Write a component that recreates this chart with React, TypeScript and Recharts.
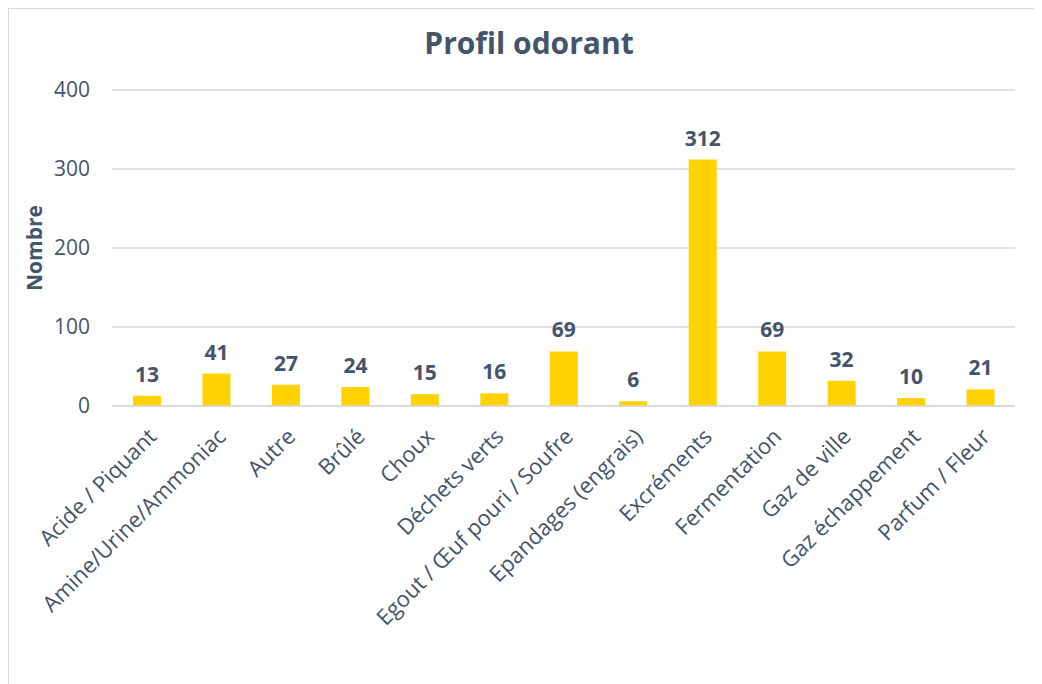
import React from 'react';
import { BarChart, Bar, XAxis, YAxis, CartesianGrid, LabelList, Label } from 'recharts';

const CATEGORIES = [
  'Acide / Piquant', 'Amine/Urine/Ammoniac', 'Autre', 'Brûlé', 'Choux', 'Déchets verts',
  'Egout / Œuf pouri / Soufre', 'Epandages (engrais)', 'Excréments', 'Fermentation',
  'Gaz de ville', 'Gaz échappement', 'Parfum / Fleur',
];
const COUNTS = [13, 41, 27, 24, 15, 16, 69, 6, 312, 69, 32, 10, 21];
const Y_TICKS = [0, 100, 200, 300, 400];

const TEXT = '#44546a';
const GRID = '#d9d9d9';
const BAR = '#ffd200';
const FONT = '"Open Sans", "Noto Sans", sans-serif';

const data = CATEGORIES.map((name, i) => ({ name, value: COUNTS[i] }));

const XTick = ({ x, y, payload }: any) => (
  <g transform={`translate(${x + 11},${y + 32})`}>
    <text transform="rotate(-45)" textAnchor="end" fill={TEXT} fontSize={22} fontFamily={FONT}>
      {payload.value}
    </text>
  </g>
);

const YTitle = ({ viewBox }: any) => {
  const cx = viewBox.x + 25;
  const cy = viewBox.y + viewBox.height / 2;
  return (
    <text x={cx} y={cy} transform={`rotate(-90 ${cx} ${cy})`} textAnchor="middle" dominantBaseline="central"
      fill={TEXT} fontSize={21} fontWeight="bold" fontFamily={FONT}>
      Nombre
    </text>
  );
};

export default function App() {
  return (
    <div style={{
      position: 'relative', width: 1034, height: 676, boxSizing: 'border-box',
      borderTop: `1px solid ${GRID}`, borderLeft: `1px solid ${GRID}`, background: '#fff', fontFamily: FONT,
    }}>
      <div style={{
        position: 'absolute', top: 14, left: 0, width: 1040, textAlign: 'center',
        fontSize: 30, fontWeight: 'bold', color: TEXT, lineHeight: '40px',
      }}>
        Profil odorant
      </div>
      <BarChart width={1033} height={675} data={data} margin={{ top: 81, right: 27, left: 0, bottom: 0 }}>
        <CartesianGrid vertical={false} stroke={GRID} strokeWidth={1.3} />
        <XAxis dataKey="name" interval={0} height={278} tickLine={false} tickSize={0} tickMargin={0}
          axisLine={{ stroke: GRID, strokeWidth: 1.5 }} tick={<XTick />} />
        <YAxis width={103} domain={[0, 400]} ticks={Y_TICKS} axisLine={false} tickLine={false}
          tickSize={0} tickMargin={22} tick={{ fill: TEXT, fontSize: 21, fontFamily: FONT }}>
          <Label content={<YTitle />} />
        </YAxis>
        <Bar dataKey="value" fill={BAR} barSize={28} isAnimationActive={false}>
          <LabelList dataKey="value" position="top" offset={14} fill={TEXT} fontSize={21}
            fontWeight="bold" fontFamily={FONT} />
        </Bar>
      </BarChart>
    </div>
  );
}
